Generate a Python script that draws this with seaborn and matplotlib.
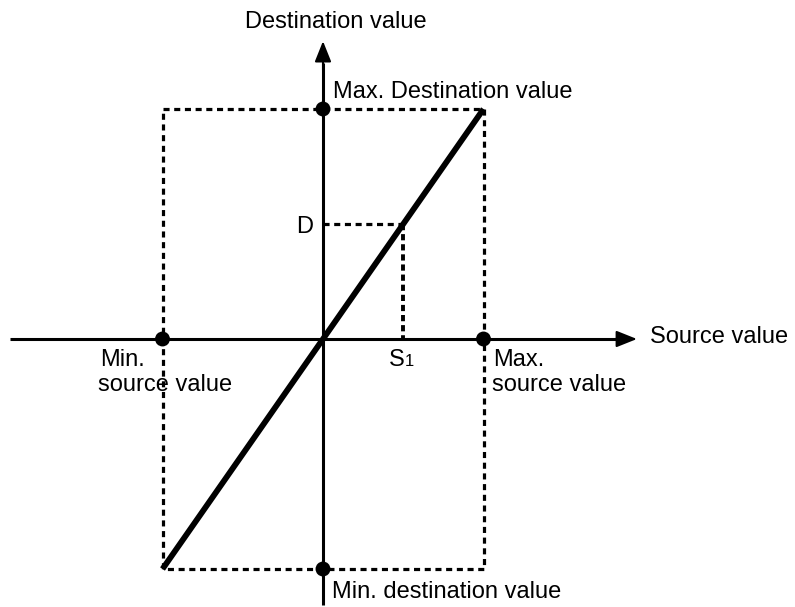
import numpy as np
import pandas as pd
import matplotlib
matplotlib.use('Agg')
import matplotlib.pyplot as plt
import seaborn as sns

# scaling diagram: source range and destination range
source_min, source_max = -1.0, 1.0
dest_min, dest_max = -1.0, 1.0
s1 = 0.5
d_val = 0.5

sns.set_theme(style='white')
plt.rcParams['font.family'] = ['Liberation Sans', 'DejaVu Sans']
plt.rcParams['text.color'] = 'black'

fig = plt.figure(figsize=(7.95, 6.07), dpi=100)
ax = fig.add_axes([0, 0, 1, 1])
# origin at (323, 339) px, 160.5 px per source unit, 230 px per dest unit
ax.set_xlim(-323 / 160.5, (795 - 323) / 160.5)
ax.set_ylim(-(607 - 339) / 230, 339 / 230)
ax.axis('off')

k = 'black'
head = '-|>,head_length=1.05,head_width=0.42'
# axes with arrows
ax.plot([-1.95, 1.85], [0, 0], color=k, lw=2.2, solid_capstyle='butt')
ax.annotate('', xy=(1.956, 0), xytext=(1.82, 0),
            arrowprops=dict(arrowstyle=head, color=k, lw=1.5, shrinkA=0, shrinkB=0))
ax.plot([0, 0], [-1.157, 1.2], color=k, lw=2.2, solid_capstyle='butt')
ax.annotate('', xy=(0, 1.295), xytext=(0, 1.17),
            arrowprops=dict(arrowstyle=head, color=k, lw=1.5, shrinkA=0, shrinkB=0))

# dashed range rectangle
dash = (0, (1.9, 1.45))
rect_x = [source_min, source_max, source_max, source_min, source_min]
rect_y = [dest_max, dest_max, dest_min, dest_min, dest_max]
ax.plot(rect_x, rect_y, color=k, lw=2.3, linestyle=dash)

# D / S1 guide lines
ax.plot([0, s1], [d_val, d_val], color=k, lw=2.3, linestyle=dash)
ax.plot([s1, s1], [d_val, 0], color=k, lw=2.8, linestyle=(0, (1.6, 1.0)))

# transfer line
line_df = pd.DataFrame({'src': [source_min, source_max], 'dst': [dest_min, dest_max]})
sns.lineplot(data=line_df, x='src', y='dst', color=k, lw=4.2, ax=ax,
             solid_capstyle='butt')

# range points
pts = pd.DataFrame({'x': [0, 0, source_min, source_max],
                    'y': [dest_max, dest_min, 0, 0]})
sns.scatterplot(data=pts, x='x', y='y', color=k, s=115, edgecolor='none',
                ax=ax, zorder=5)

fs = 17
bl = dict(va='baseline', fontsize=fs)
ax.text(0.081, 1.352, 'Destination value', ha='center', **bl)
ax.text(0.062, 1.048, 'Max. Destination value', ha='left', **bl)
ax.text(0.056, -1.126, 'Min. destination value', ha='left', **bl)
ax.text(2.037, -0.017, 'Source value', ha='left', **bl)
ax.text(-0.168, 0.461, 'D', ha='left', **bl)
ax.text(0.411, -0.117, 'S', ha='left', **bl)
ax.text(0.511, -0.117, '1', ha='left', va='baseline', fontsize=fs * 0.7)
ax.text(-1.389, -0.117, 'Min.', ha='left', **bl)
ax.text(-1.402, -0.226, 'source value', ha='left', **bl)
ax.text(1.059, -0.117, 'Max.', ha='left', **bl)
ax.text(1.053, -0.226, 'source value', ha='left', **bl)

fig.savefig('out.png', dpi=100)
